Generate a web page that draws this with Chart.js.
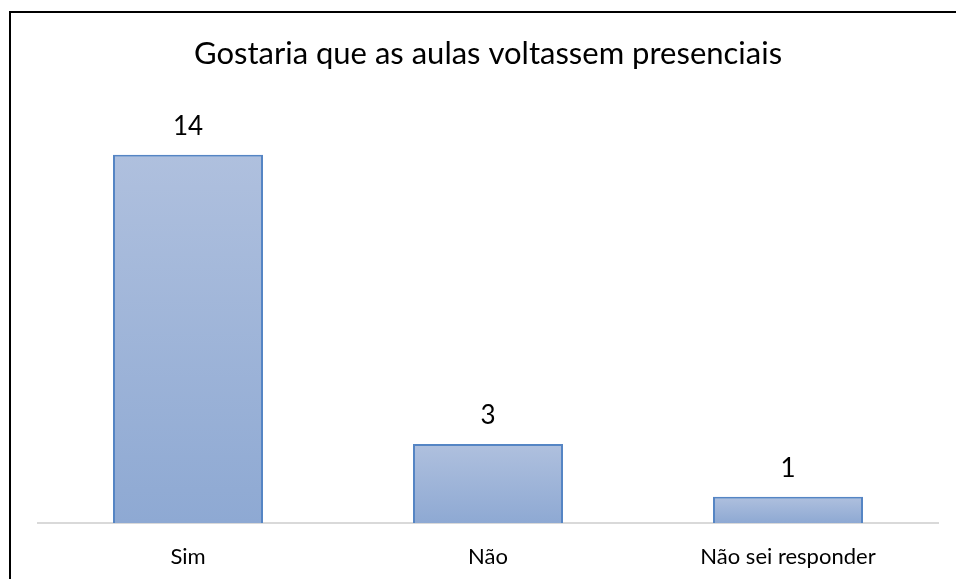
<!DOCTYPE html>
<html lang="pt">
<head>
  <meta charset="UTF-8">
  <title>Gostaria que as aulas voltassem presenciais</title>
  <script src="https://cdn.jsdelivr.net/npm/chart.js"></script>
  <style>
    html, body {
      margin: 0;
      padding: 0;
      background: #fff;
      overflow: hidden;
    }
    .wrap {
      position: relative;
      width: 956px;
      height: 579px;
      overflow: hidden;
    }
    .frame {
      position: absolute;
      left: 9px;
      top: 11px;
      right: -20px;
      bottom: -20px;
      border-left: 2px solid #000;
      border-top: 2px solid #000;
      pointer-events: none;
    }
  </style>
</head>
<body>
  <div class="wrap">
    <canvas id="grafico" width="956" height="579"></canvas>
    <div class="frame"></div>
  </div>

  <script>
    const titulo = 'Gostaria que as aulas voltassem presenciais';
    const categorias = ['Sim', 'Não', 'Não sei responder'];
    const respostas = [14, 3, 1];
    const eixoMax = 16;

    const fonte = 'Lato, "Open Sans", sans-serif';

    // gradiente por barra, claro em cima e mais escuro em baixo
    function corBarra(context) {
      const chart = context.chart;
      if (!chart.chartArea) return '#a0b4d8';
      const y = chart.scales.y;
      const topo = y.getPixelForValue(context.raw);
      const base = y.getPixelForValue(0);
      const g = chart.ctx.createLinearGradient(0, topo, 0, base);
      g.addColorStop(0, '#afc0de');
      g.addColorStop(1, '#8ea9d3');
      return g;
    }

    // rótulos de valor acima das barras
    const rotulos = {
      id: 'rotulos',
      afterDatasetsDraw(chart) {
        const ctx = chart.ctx;
        const meta = chart.getDatasetMeta(0);
        ctx.save();
        ctx.font = '26px ' + fonte;
        ctx.fillStyle = '#000';
        ctx.textAlign = 'center';
        ctx.textBaseline = 'middle';
        meta.data.forEach((bar, i) => {
          ctx.fillText(String(respostas[i]), bar.x, bar.y - 28);
        });
        ctx.restore();
      }
    };

    new Chart(document.getElementById('grafico'), {
      type: 'bar',
      data: {
        labels: categorias,
        datasets: [{
          data: respostas,
          backgroundColor: corBarra,
          borderColor: '#5585c4',
          borderWidth: 2,
          borderSkipped: 'bottom',
          categoryPercentage: 1,
          barPercentage: 0.5
        }]
      },
      options: {
        responsive: false,
        animation: false,
        layout: {
          padding: { left: 38, right: 18, top: 0, bottom: 11 }
        },
        plugins: {
          legend: { display: false },
          tooltip: { enabled: false },
          title: {
            display: true,
            text: titulo,
            color: '#000',
            font: { family: fonte, size: 31, weight: 'normal' },
            padding: { top: 35, bottom: 30 }
          }
        },
        scales: {
          y: {
            display: false,
            min: 0,
            max: eixoMax
          },
          x: {
            grid: { display: false, drawTicks: false },
            border: { color: '#d9d9d9', width: 2 },
            ticks: {
              color: '#000',
              padding: 21,
              font: { family: fonte, size: 22 }
            },
            afterFit(scale) {
              scale.height = 45;
            }
          }
        }
      },
      plugins: [rotulos]
    });
  </script>
</body>
</html>
